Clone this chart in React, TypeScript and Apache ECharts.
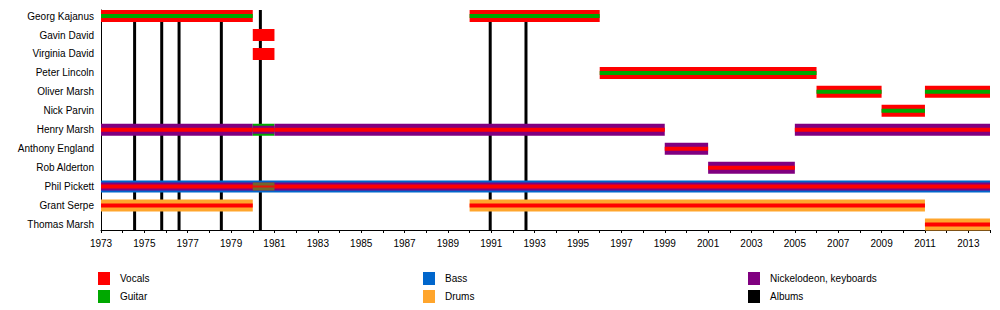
import React, { useEffect, useRef } from "react";
import * as echarts from "echarts";

const members = [
  "Georg Kajanus",
  "Gavin David",
  "Virginia David",
  "Peter Lincoln",
  "Oliver Marsh",
  "Nick Parvin",
  "Henry Marsh",
  "Anthony England",
  "Rob Alderton",
  "Phil Pickett",
  "Grant Serpe",
  "Thomas Marsh",
];

const roleNames = {
  vocals: "Vocals",
  guitar: "Guitar",
  bass: "Bass",
  drums: "Drums",
  keys: "Nickelodeon, keyboards",
};

const roleColors = {
  vocals: "#ff0000",
  guitar: "#00a800",
  bass: "#0066cc",
  drums: "#ffa52c",
  keys: "#800080",
};

// [row, start, end, roles outer -> inner]
const stints: [number, number, number, string[]][] = [
  [0, 1973, 1980, ["vocals", "guitar"]],
  [0, 1990, 1996, ["vocals", "guitar"]],
  [1, 1980, 1981, ["vocals"]],
  [2, 1980, 1981, ["vocals"]],
  [3, 1996, 2006, ["vocals", "guitar"]],
  [4, 2006, 2009, ["vocals", "guitar"]],
  [4, 2011, 2014, ["vocals", "guitar"]],
  [5, 2009, 2011, ["vocals", "guitar"]],
  [6, 1973, 1980, ["keys", "vocals"]],
  [6, 1980, 1981, ["guitar", "keys", "vocals"]],
  [6, 1981, 1999, ["keys", "vocals"]],
  [6, 2005, 2014, ["keys", "vocals"]],
  [7, 1999, 2001, ["keys", "vocals"]],
  [8, 2001, 2005, ["keys", "vocals"]],
  [9, 1973, 2014, ["bass", "keys", "vocals"]],
  [10, 1973, 1980, ["drums", "vocals"]],
  [10, 1990, 2011, ["drums", "vocals"]],
  [11, 2011, 2014, ["drums", "vocals"]],
];

// extra guitar band blended over keys/vocals: [row, start, end]
const guitarBlends: [number, number, number][] = [[9, 1980, 1981]];

const albumDates = [1974.55, 1975.8, 1976.6, 1978.55, 1980.35, 1990.95, 1992.6];

const yearMin = 1973;
const yearMax = 2014;

const FONT = "'Liberation Sans', Arial, sans-serif";
const BLEND_COLOR = "#72682c";

export default function App() {
  const ref = useRef<HTMLDivElement>(null);

  useEffect(() => {
    if (!ref.current) return;
    const chart = echarts.init(ref.current, null, { renderer: "svg" });

    const heightsFor = (n: number) => (n === 1 ? [12] : n === 2 ? [12, 4] : [12, 8, 4]);

    const legendText = {
      fontSize: 10,
      fontFamily: FONT,
      color: "#000",
      padding: [0, 0, 0, 5],
    };
    const legendBase = {
      orient: "vertical",
      top: 272,
      itemWidth: 12,
      itemHeight: 13,
      itemGap: 5,
      icon: "rect",
      selectedMode: false,
      textStyle: legendText,
      padding: 0,
    };

    const roleKeys = Object.keys(roleNames);

    chart.setOption({
      animation: false,
      grid: { left: 101, right: 10, top: 10, bottom: 80 },
      xAxis: {
        type: "value",
        min: yearMin,
        max: yearMax,
        interval: 1,
        axisLine: { show: true, onZero: false, lineStyle: { color: "#000", width: 1 } },
        axisTick: { show: true, length: 3, lineStyle: { color: "#000" } },
        splitLine: { show: false },
        axisLabel: {
          margin: 8,
          fontSize: 10,
          fontFamily: FONT,
          color: "#000",
          formatter: (v: number) => (v % 2 === 1 && v < yearMax ? String(v) : ""),
        },
      },
      yAxis: {
        type: "value",
        inverse: true,
        min: -0.32,
        max: 11.29,
        axisLine: { show: true, onZero: false, lineStyle: { color: "#000", width: 1 } },
        axisTick: { show: false },
        splitLine: { show: false },
        axisLabel: {
          customValues: members.map((_, i) => i),
          margin: 7,
          fontSize: 10,
          fontFamily: FONT,
          color: "#000",
          formatter: (v: number) => members[Math.round(v)] ?? "",
        },
      },
      legend: [
        { ...legendBase, left: 98, data: [roleNames.vocals, roleNames.guitar] },
        { ...legendBase, left: 423, data: [roleNames.bass, roleNames.drums] },
        { ...legendBase, left: 748, data: [roleNames.keys, "Albums"] },
      ],
      series: [
        {
          type: "custom",
          name: "Albums",
          itemStyle: { color: "#000" },
          z: 1,
          data: albumDates.map((d) => [d]),
          renderItem: (params: any, api: any) => {
            const x = api.coord([api.value(0), 0])[0];
            const cs = params.coordSys;
            return {
              type: "line",
              shape: { x1: x, y1: cs.y, x2: x, y2: cs.y + cs.height },
              style: { stroke: "#000", lineWidth: 3 },
            };
          },
        },
        {
          type: "custom",
          name: "stints",
          z: 2,
          data: stints.map((s) => [s[1], s[2], s[0]]),
          renderItem: (params: any, api: any) => {
            const s = stints[params.dataIndex];
            const p0 = api.coord([api.value(0), api.value(2)]);
            const p1 = api.coord([api.value(1), api.value(2)]);
            const hs = heightsFor(s[3].length);
            const children: any[] = s[3].map((role, i) => ({
              type: "rect",
              shape: { x: p0[0], y: p0[1] - hs[i] / 2, width: p1[0] - p0[0], height: hs[i] },
              style: { fill: (roleColors as any)[role] },
            }));
            guitarBlends
              .filter((o) => o[0] === s[0] && o[1] >= s[1] && o[2] <= s[2])
              .forEach((o) => {
                const q0 = api.coord([o[1], o[0]]);
                const q1 = api.coord([o[2], o[0]]);
                children.push({
                  type: "rect",
                  shape: { x: q0[0], y: q0[1] - 4, width: q1[0] - q0[0], height: 8 },
                  style: { fill: BLEND_COLOR },
                });
                children.push({
                  type: "rect",
                  shape: { x: q0[0], y: q0[1] - 1, width: q1[0] - q0[0], height: 2 },
                  style: { fill: roleColors.vocals, opacity: 0.8 },
                });
              });
            return { type: "group", children };
          },
        },
        ...roleKeys.map((k) => ({
          type: "custom",
          name: (roleNames as any)[k],
          itemStyle: { color: (roleColors as any)[k] },
          data: [],
          renderItem: () => null,
        })),
      ],
    });

    return () => chart.dispose();
  }, []);

  return (
    <div
      ref={ref}
      style={{ position: "fixed", left: 0, top: 0, width: 1000, height: 310, background: "#fff" }}
    />
  );
}
